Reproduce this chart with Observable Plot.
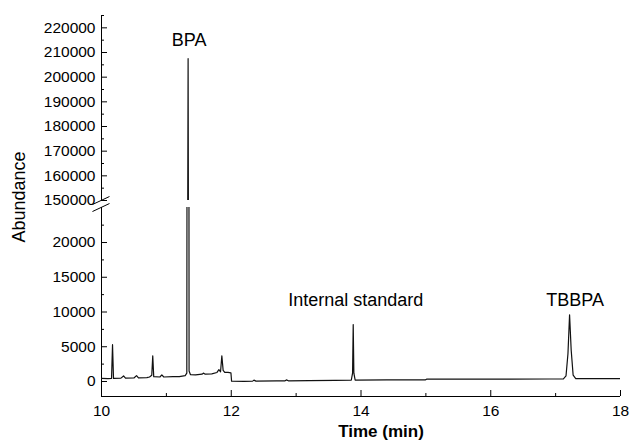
<!DOCTYPE html>
<html>
<head>
<meta charset="utf-8">
<script src="https://cdn.jsdelivr.net/npm/d3@7"></script>
<script src="https://cdn.jsdelivr.net/npm/@observablehq/plot@0.6"></script>
<style>
  body { margin: 0; background: white; }
  #wrap { position: relative; width: 630px; height: 442px; font-family: "Liberation Sans", Arial, sans-serif; color: black; }
  #wrap > .p { position: absolute; left: 0; }
  .lab { position: absolute; white-space: nowrap; transform: translate(-50%, -50%); }
</style>
</head>
<body>
<div id="wrap">
  <div class="p" id="top" style="top:0px"></div>
  <div class="p" id="bot" style="top:190px"></div>
  <div class="lab" style="left:19px; top:197px; font-size:18px; transform: translate(-50%,-50%) rotate(-90deg);">Abundance</div>
  <div class="lab" style="left:381px; top:432px; font-size:17px; font-weight:bold;">Time (min)</div>
</div>
<script>
// Chromatogram trace (time in min, abundance)
const times = [10.00, 10.10, 10.155, 10.170, 10.185, 10.30, 10.34, 10.37, 10.50, 10.54, 10.57, 10.70, 10.74, 10.775, 10.790, 10.805, 10.90, 10.93, 10.96, 11.10, 11.20, 11.29, 11.315, 11.335, 11.350, 11.37, 11.45, 11.55, 11.57, 11.60, 11.70, 11.78, 11.81, 11.835, 11.855, 11.875, 11.90, 11.95, 11.995, 12.005, 12.20, 12.33, 12.35, 12.38, 12.70, 12.83, 12.85, 12.88, 13.20, 13.60, 13.85, 13.870, 13.880, 13.890, 13.91, 14.40, 14.99, 15.01, 15.60, 16.30, 16.90, 17.12, 17.16, 17.19, 17.215, 17.240, 17.27, 17.31, 17.60, 18.00];
const abundance = [450, 420, 450, 5300, 450, 480, 800, 480, 500, 850, 520, 550, 650, 900, 3700, 700, 650, 950, 650, 700, 700, 850, 1200, 207500, 1500, 1000, 950, 1050, 1200, 1050, 1100, 1300, 1700, 1400, 3700, 1600, 1300, 1300, 1250, 50, 30, 50, 200, 50, 80, 100, 230, 100, 120, 150, 180, 1200, 8200, 1200, 200, 220, 220, 330, 330, 350, 360, 380, 800, 4000, 9600, 4500, 900, 420, 400, 420];

// Peak annotations
const peakNames = ["BPA", "Internal standard", "TBBPA"];
const peakLabelTimes = [11.35, 13.92, 17.30];
const peakLabelValues = [214800, 11700, 11700];

// Tick values
const xMajorTicks = [10, 12, 14, 16, 18];
const xMinorTicks = [11, 13, 15, 17];
const yLowerMajor = [0, 5000, 10000, 15000, 20000];
const yLowerMinor = [2500, 7500, 12500, 17500, 22500];
const yUpperMajor = [150000, 160000, 170000, 180000, 190000, 200000, 210000, 220000];
const yUpperMinor = [155000, 165000, 175000, 185000, 195000, 205000, 215000, 225000];

// Axis break (lower and upper domains)
const lowerDomain = [-2160, 25040];
const upperDomain = [150000, 225000];
const breakTimes1 = [9.861, 9.861];
const breakTimes2 = [10.123, 10.123];
const breakVals1 = [25468, 24460];
const breakVals2 = [26619, 25612];

const rows = times.map((t, i) => ({t, v: abundance[i]}));
const labels = peakNames.map((name, i) => ({name, t: peakLabelTimes[i], v: peakLabelValues[i]}));
const breaks = breakTimes1.map((_, i) => ({x1: breakTimes1[i], y1: breakVals1[i], x2: breakTimes2[i], y2: breakVals2[i]}));

const fmt = d3.format("d");
const font = "'Liberation Sans', Arial, sans-serif";
const common = {
  width: 630, marginLeft: 101, marginRight: 10,
  style: {fontFamily: font, fontSize: "15.5px", color: "black", background: "transparent", overflow: "visible"}
};
const lineStyle = {x: "t", y: "v", stroke: "#111", strokeWidth: 1.2, clip: true};

const topPlot = Plot.plot({
  ...common,
  height: 201, marginTop: 15, marginBottom: 1,
  x: {domain: [10, 18], axis: null},
  y: {domain: upperDomain},
  marks: [
    Plot.ruleX([10], {stroke: "black"}),
    Plot.axisY(yUpperMajor, {tickSize: 0, tickPadding: 6, tickFormat: fmt, label: null, fontSize: 15.5}),
    Plot.axisY(yUpperMajor, {tickSize: -6, tickFormat: () => "", label: null}),
    Plot.axisY(yUpperMinor, {tickSize: -3, tickFormat: () => "", label: null}),
    Plot.line(rows, lineStyle),
    Plot.text(labels.filter(d => d.v > upperDomain[0]), {x: "t", y: "v", text: "name", fontSize: 18})
  ]
});
document.getElementById("top").appendChild(topPlot);

const botPlot = Plot.plot({
  ...common,
  height: 252, marginTop: 17, marginBottom: 46,
  x: {domain: [10, 18]},
  y: {domain: lowerDomain},
  marks: [
    Plot.ruleX([10], {stroke: "black"}),
    Plot.ruleY([lowerDomain[0]], {stroke: "black"}),
    Plot.axisY(yLowerMajor, {tickSize: 0, tickPadding: 6, tickFormat: fmt, label: null, fontSize: 15.5}),
    Plot.axisY(yLowerMajor, {tickSize: -6, tickFormat: () => "", label: null}),
    Plot.axisY(yLowerMinor, {tickSize: -3, tickFormat: () => "", label: null}),
    Plot.axisX(xMajorTicks, {tickSize: 0, tickPadding: 8, tickFormat: fmt, label: null, fontSize: 15.5}),
    Plot.axisX(xMajorTicks, {tickSize: -6, tickFormat: () => "", label: null}),
    Plot.axisX(xMinorTicks, {tickSize: -3, tickFormat: () => "", label: null}),
    Plot.line(rows, lineStyle),
    Plot.text(labels.filter(d => d.v < lowerDomain[1]), {x: "t", y: "v", text: "name", fontSize: 18}),
    Plot.link(breaks, {x1: "x1", y1: "y1", x2: "x2", y2: "y2", stroke: "black", strokeWidth: 1})
  ]
});
document.getElementById("bot").appendChild(botPlot);
</script>
</body>
</html>
